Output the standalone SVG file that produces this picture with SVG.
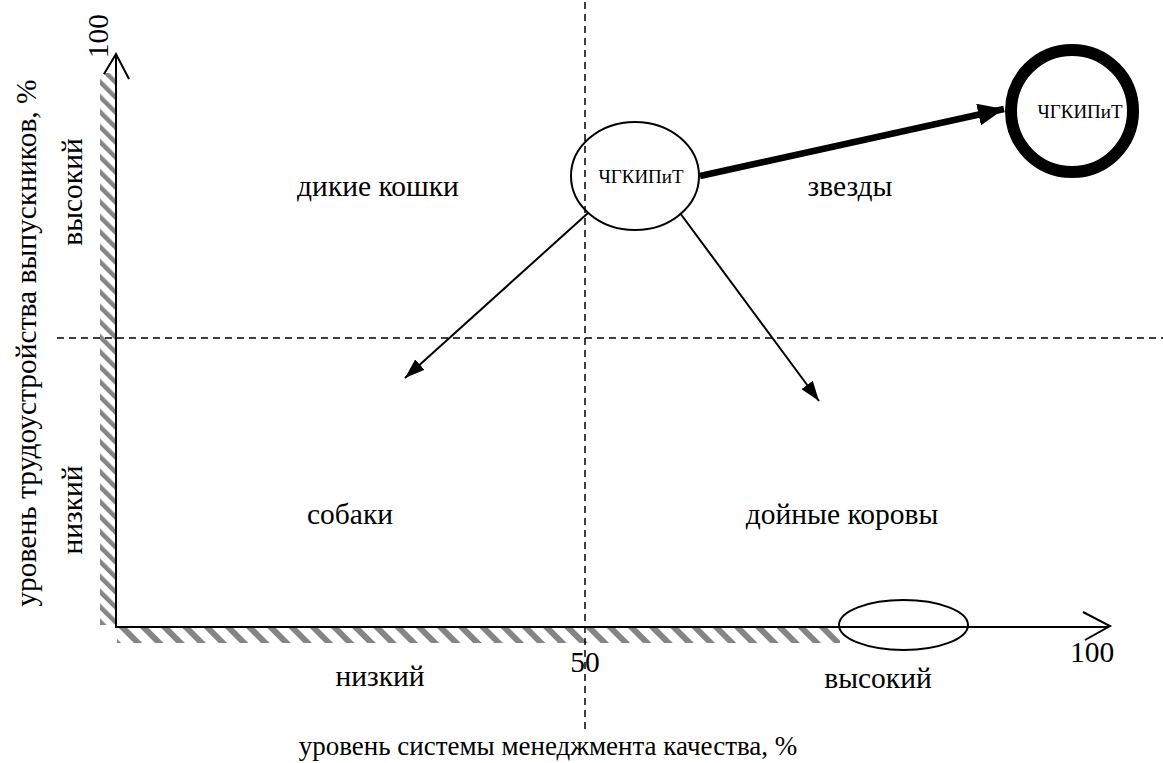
<svg xmlns="http://www.w3.org/2000/svg" width="1163" height="763" viewBox="0 0 1163 763">
<style>
text{font-family:"Liberation Serif","Times New Roman",serif;fill:#000}
.lbl{font-size:29.5px;text-anchor:middle}
.ttl{font-size:27px;text-anchor:middle}
.node{font-size:19px;text-anchor:middle}
.axis{stroke:#000;stroke-width:2;fill:none}
.dash{stroke:#000;stroke-width:1.5;stroke-dasharray:7 5;fill:none}
.thin{stroke:#000;stroke-width:2;fill:none}
</style>
<defs>
<pattern id="hv" patternUnits="userSpaceOnUse" width="10.6" height="10.6" patternTransform="rotate(-45)">
<rect x="0" y="0" width="4.5" height="10.6" fill="#858585"/>
</pattern>
<pattern id="hh" patternUnits="userSpaceOnUse" width="15" height="15" patternTransform="rotate(-45)">
<rect x="0" y="0" width="6" height="15" fill="#858585"/>
</pattern>
<marker id="ahs" viewBox="0 0 20 14" refX="20" refY="7" markerWidth="20" markerHeight="14" markerUnits="userSpaceOnUse" orient="auto">
<path d="M0,0 L20,7 L0,14 z" fill="#000"/>
</marker>
<marker id="ahb" viewBox="0 0 26 22" refX="26" refY="11" markerWidth="26" markerHeight="22" markerUnits="userSpaceOnUse" orient="auto">
<path d="M0,0 L26,11 L0,22 z" fill="#000"/>
</marker>
</defs>
<rect width="1163" height="763" fill="#fff"/>

<g id="hatching">
<rect x="100" y="73" width="16" height="552" fill="url(#hv)"/>
<rect x="117" y="628" width="723" height="15" fill="url(#hh)"/>
</g>

<g id="grid">
<line class="dash" x1="585" y1="2" x2="585" y2="733"/>
<line class="dash" x1="57" y1="338" x2="1163" y2="338"/>
</g>

<g id="axes">
<line class="axis" x1="116" y1="627" x2="116" y2="55"/>
<polyline class="axis" points="104,74 116,54 129,79"/>
<line class="axis" x1="115" y1="627" x2="1109" y2="627"/>
<polyline class="axis" points="1083,612 1110,626 1085,640"/>
<text class="lbl" transform="translate(108,36) rotate(-90)">100</text>
<text class="lbl" x="1092" y="662">100</text>
<text class="lbl" x="585" y="672">50</text>
<text class="lbl" x="380" y="686">низкий</text>
<text class="lbl" x="878" y="688">высокий</text>
<text class="ttl" x="548" y="755">уровень системы менеджмента качества, %</text>
<text class="lbl" transform="translate(82,192) rotate(-90)">высокий</text>
<text class="lbl" transform="translate(82,510) rotate(-90)">низкий</text>
<text class="lbl" transform="translate(36,343) rotate(-90)">уровень трудоустройства выпускников, %</text>
</g>

<g id="quadrants">
<text class="lbl" x="378" y="196">дикие кошки</text>
<text class="lbl" x="850" y="196">звезды</text>
<text class="lbl" x="350" y="524">собаки</text>
<text class="lbl" x="842" y="524">дойные коровы</text>
</g>

<g id="connectors">
<line x1="700" y1="176" x2="1004" y2="109" stroke="#000" stroke-width="6.5" marker-end="url(#ahb)"/>
<line class="thin" x1="588" y1="213" x2="405" y2="378" marker-end="url(#ahs)"/>
<line class="thin" x1="680" y1="213" x2="819" y2="401" marker-end="url(#ahs)"/>
</g>

<g id="node-current">
<ellipse cx="635" cy="176" rx="64" ry="54" fill="none" stroke="#000" stroke-width="2"/>
<text class="node" x="641" y="183">ЧГКИПиТ</text>
</g>

<g id="node-target">
<circle cx="1072" cy="111" r="61" fill="none" stroke="#000" stroke-width="12"/>
<text class="node" x="1080" y="118">ЧГКИПиТ</text>
</g>

<g id="node-axis">
<ellipse cx="903.5" cy="625" rx="64.5" ry="25" fill="none" stroke="#000" stroke-width="2"/>
</g>
</svg>
